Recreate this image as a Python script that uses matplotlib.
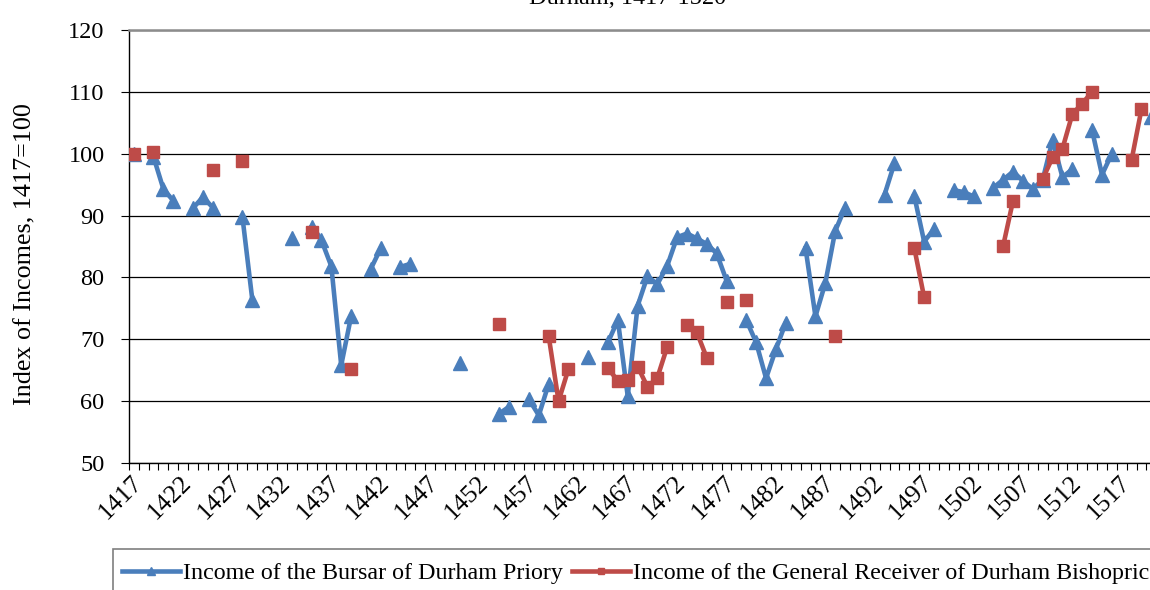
import matplotlib
matplotlib.use("Agg")
import matplotlib.pyplot as plt
from matplotlib.patches import Rectangle
import numpy as np
import pandas as pd

plt.rcParams['font.family'] = ['Liberation Serif', 'DejaVu Serif']

# years with a value; missing years are left as gaps
bursar_years = [1417, 1419, 1420, 1421, 1423, 1424, 1425, 1428, 1429, 1433,
                1435, 1436, 1437, 1438, 1439, 1441, 1442, 1444, 1445, 1450,
                1454, 1455, 1457, 1458, 1459, 1463, 1465, 1466, 1467, 1468,
                1469, 1470, 1471, 1472, 1473, 1474, 1475, 1476, 1477, 1479,
                1480, 1481, 1482, 1483, 1485, 1486, 1487, 1488, 1489, 1493,
                1494, 1496, 1497, 1498, 1500, 1501, 1502, 1504, 1505, 1506,
                1507, 1508, 1509, 1510, 1511, 1512, 1514, 1515, 1516, 1520]
bursar_vals = [100.0, 99.5, 94.3, 92.4, 91.2, 93.0, 91.3, 89.8, 76.4, 86.3,
               88.2, 86.0, 81.8, 65.8, 73.7, 81.4, 84.7, 81.7, 82.2, 66.1,
               58.0, 59.1, 60.3, 57.7, 62.8, 67.2, 69.5, 73.1, 60.8, 75.4,
               80.2, 78.9, 81.9, 86.5, 87.1, 86.3, 85.4, 83.9, 79.5, 73.1,
               69.5, 63.7, 68.4, 72.7, 84.7, 73.7, 79.1, 87.5, 91.3, 93.4,
               98.5, 93.2, 85.8, 87.8, 94.1, 93.8, 93.1, 94.5, 95.8, 97.1,
               95.6, 94.3, 95.8, 102.2, 96.2, 97.5, 103.8, 96.6, 100.0, 106.0]

receiver_years = [1417, 1419, 1425, 1428, 1435, 1439, 1454, 1459, 1460, 1461,
                  1465, 1466, 1467, 1468, 1469, 1470, 1471, 1473, 1474, 1475,
                  1477, 1479, 1488, 1496, 1497, 1505, 1506, 1509, 1510, 1511,
                  1512, 1513, 1514, 1518, 1519]
receiver_vals = [100.0, 100.3, 97.3, 98.8, 87.4, 65.2, 72.4, 70.5, 60.0, 65.2,
                 65.3, 63.3, 63.4, 65.6, 62.3, 63.8, 68.8, 72.3, 71.1, 67.0,
                 76.1, 76.4, 70.5, 84.8, 76.8, 85.1, 92.4, 95.9, 99.4, 100.8,
                 106.4, 108.1, 110.0, 99.0, 107.2]

all_years = np.arange(1417, 1521)
bursar = pd.Series(bursar_vals, index=bursar_years).reindex(all_years)
receiver = pd.Series(receiver_vals, index=receiver_years).reindex(all_years)

blue = '#4a7ebb'
red = '#be4b48'
fs = 17.5

fig = plt.figure(figsize=(11.5, 5.9), dpi=100)
W, H = 1150, 590
ax = fig.add_axes([128.8 / W, (H - 463) / H, (1156.3 - 128.8) / W, 433 / H])

ax.plot(all_years, bursar.values, color=blue, lw=3.3, marker='^', ms=9.5,
        label='Income of the Bursar of Durham Priory', zorder=3)
ax.plot(all_years, receiver.values, color=red, lw=3.3, marker='s', ms=9,
        label='Income of the General Receiver of Durham Bishopric', zorder=4)

ax.set_xlim(1416.5, 1520.5)
ax.set_ylim(50, 120)
ax.set_yticks(range(50, 121, 10))
ax.yaxis.grid(True, color='black', lw=0.9)
ax.set_axisbelow(True)

# labels sit a little right of the category centre, as in the original
label_years = all_years[::5]
ax.set_xticks(label_years + 1.3)
ax.set_xticklabels([str(y) for y in label_years], rotation=45, ha='right',
                   va='top', fontsize=18.5)
ax.set_xticks(np.arange(1416.5, 1521, 1), minor=True)
ax.tick_params(axis='x', which='major', length=0, pad=6)
ax.tick_params(axis='x', which='minor', length=5, width=0.8, direction='out')
ax.tick_params(axis='y', length=6, width=0.8, labelsize=fs, pad=11.5)

for s in ['left', 'bottom']:
    ax.spines[s].set_linewidth(1.0)
ax.spines['top'].set_color('#8c8c8c')
ax.spines['top'].set_linewidth(1.8)
ax.spines['right'].set_visible(False)

fig.text(25 / W, 1 - 254 / H, 'Index of Incomes, 1417=100', rotation=90,
         ha='center', va='center', fontsize=18.8)
fig.text(628 / W, 1 - 4 / H, 'Durham, 1417-1520', ha='center', va='baseline',
         fontsize=fs)

# legend frame runs off the bottom and right edge
fig.patches.append(Rectangle((113 / W, -0.05), 1.0, (H - 549) / H + 0.05,
                             transform=fig.transFigure, fill=False,
                             edgecolor='#7f7f7f', lw=1.2))
fig.legend(loc='center left', bbox_to_anchor=(122 / W, 1 - 573 / H), ncol=2,
           frameon=False, fontsize=17.3, handlelength=2.4, handletextpad=0.12,
           columnspacing=0.4, borderpad=0, borderaxespad=0, markerscale=0.55)

fig.savefig('out.png', dpi=100)
